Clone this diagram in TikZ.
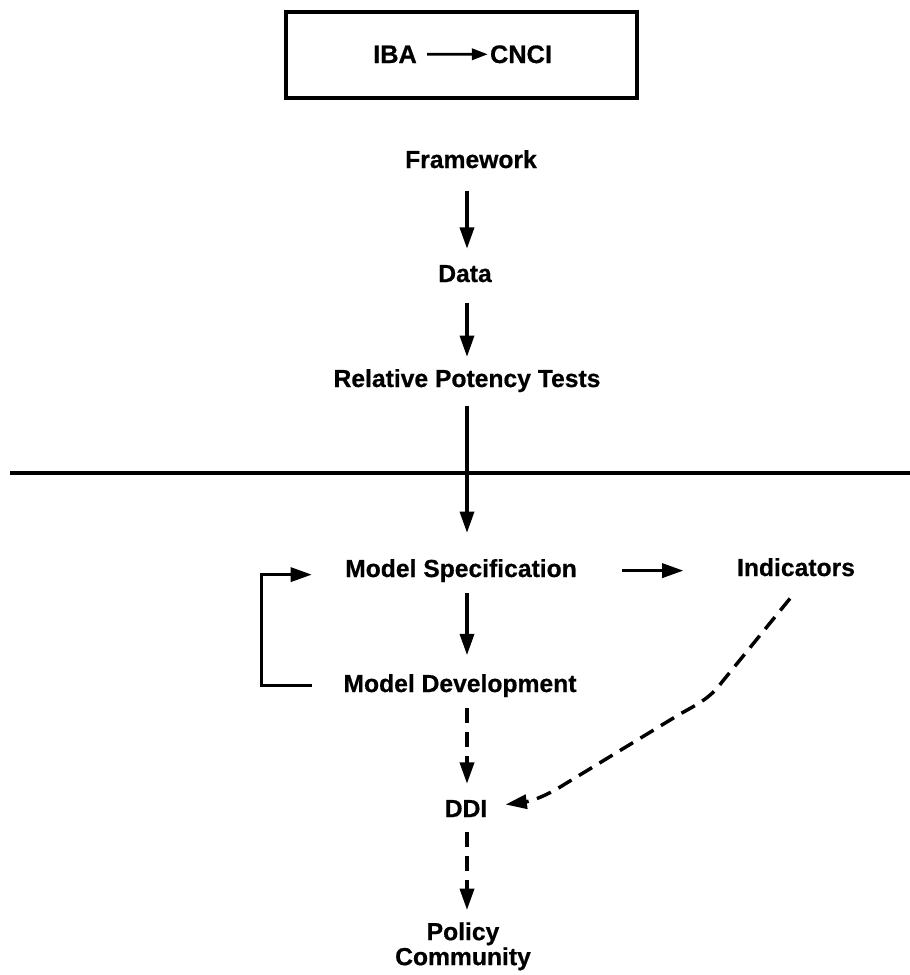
\documentclass[tikz,border=0pt]{standalone}
\usepackage{fontspec}
\setmainfont{Liberation Sans}
\newfontfamily\lblfont{Liberation Sans Bold}[FakeBold=0.6]
\usetikzlibrary{arrows.meta,calc}
\begin{document}
\begin{tikzpicture}[x=0.75pt,y=-0.75pt,
  lbl/.style={font=\fontsize{18.5}{18.75}\selectfont\lblfont, inner sep=0pt, anchor=base},
  boxlbl/.style={lbl, font=\fontsize{19}{20}\selectfont\lblfont},
  arr/.style={line width=2.6pt, -{Triangle[length=16pt,width=10.5pt]}},
  smallarr/.style={line width=2pt, -{Triangle[length=12pt,width=8.5pt]}},
  dasharr/.style={arr, dash pattern=on 11.5pt off 6.5pt},
  frame/.style={draw, line width=3pt, minimum width=263pt, minimum height=64.5pt, inner sep=0pt}]

\useasboundingbox[fill=white] (0,0) rectangle (910,975);

% title box
\node[frame] (box) at (461.5,55) {};
\node[boxlbl] (iba) at (395,63) {IBA};
\node[boxlbl] (cnci) at (521,63) {CNCI};
\draw[smallarr, shorten <=7.5pt, shorten >=1.5pt] (iba.east) -- (cnci.west);

% upper chain
\node[lbl] (frame) at (471,168) {Framework};
\node[lbl] (data)  at (465,282) {Data};
\node[lbl] (rpt)   at (467,387) {Relative Potency Tests};

\coordinate (ax) at (467,0);
\draw[arr, shorten <=16.5pt, shorten >=12pt] (frame.south -| ax) -- (data.north -| ax);
\draw[arr, shorten <=15pt, shorten >=9pt] (data.south -| ax) -- (rpt.north -| ax);

% dividing rule
\coordinate (ruleL) at (10,473);
\coordinate (ruleR) at (910,473);
\draw[line width=3.2pt] (ruleL) -- (ruleR);

% lower chain
\node[lbl] (spec) at (461,577) {Model Specification};
\node[lbl] (ind)  at (796,576) {Indicators};
\node[lbl] (dev)  at (460,692) {Model Development};
\node[lbl] (ddi)  at (466,817) {DDI};
\node[lbl, anchor=north, align=center] (policy) at (463,922) {Policy\\Community};

\draw[arr, shorten <=10pt, shorten >=19.5pt] (rpt.south -| ax) -- (spec.north -| ax);
\draw[arr, shorten <=8pt, shorten >=14pt] (spec.south -| ax) -- (dev.north -| ax);
\draw[dasharr, shorten <=8pt, shorten >=12pt] (dev.south -| ax) -- (ddi.north -| ax);
\draw[dasharr, shorten <=11pt, shorten >=9pt] (ddi.south -| ax) -- (policy.north -| ax);

% spec -> indicators
\draw[arr, shorten <=34pt, shorten >=40pt] (spec.east) -- (spec.east -| ind.west);

% feedback bracket
\draw[arr, line cap=butt] ($(dev.west)+(-31,0)$) -- ($(dev.west)+(-82,0)$)
  |- ($(spec.west)+(-33,4)$);

% dashed link from indicators to DDI
\draw[dasharr] ($(ind.south)+(-6,22)$) -- (722,682)
  .. controls (711,697) and (700,703) .. (680,714)
  -- (565,784)
  .. controls (548,795) and (532,801) .. ($(ddi.east)+(18,-4)$);

\end{tikzpicture}
\end{document}
